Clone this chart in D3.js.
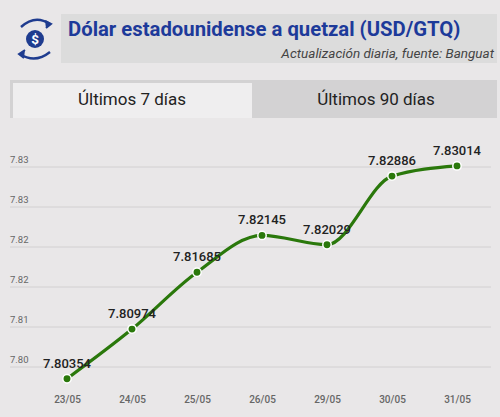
<!DOCTYPE html>
<html><head><meta charset="utf-8">
<script src="https://cdn.jsdelivr.net/npm/d3@7"></script>
<style>
html,body{margin:0;padding:0;background:#e9e7e8;}
svg{display:block;font-family:Roboto,"Noto Sans",sans-serif;}
</style></head>
<body>
<svg id="c" width="500" height="417"></svg>
<script>
const dates = ["23/05","24/05","25/05","26/05","29/05","30/05","31/05"];
const rates = [7.80354,7.80974,7.81685,7.82145,7.82029,7.82886,7.83014];
const yTicks = [7.805,7.810,7.815,7.820,7.825,7.830];
const yTickLabels = ["7.80","7.81","7.82","7.82","7.83","7.83"];
const titleText = "Dólar estadounidense a quetzal (USD/GTQ)";
const subtitleText = "Actualización diaria, fuente: Banguat";
const tabs = ["Últimos 7 días","Últimos 90 días"];

const svg = d3.select("#c");
svg.append("rect").attr("width",500).attr("height",417).attr("fill","#e9e7e8");

// Header
svg.append("rect").attr("x",61).attr("y",14).attr("width",436).attr("height",49).attr("fill","#dcdcdc");
svg.append("text").attr("x",68).attr("y",36).attr("font-size",20.3).attr("font-weight",700)
  .attr("fill","#1d3a9a").text(titleText);
svg.append("text").attr("x",494).attr("y",57.5).attr("text-anchor","end").attr("font-size",13.5)
  .attr("font-style","italic").attr("fill","#444").text(subtitleText);

// Icon
const ic = svg.append("g").attr("fill","none").attr("stroke","#1f3c8f");
svg.append("circle").attr("cx",35).attr("cy",39).attr("r",9).attr("fill","#1f3c8f");
svg.append("text").attr("x",35).attr("y",43.8).attr("text-anchor","middle").attr("font-size",13.5)
  .attr("font-weight",700).attr("fill","#fff").text("$");
ic.append("path").attr("d","M21,27 Q35,14 50,24").attr("stroke-width",2.4);
ic.append("path").attr("d","M45,21 L51,24 L46,28").attr("stroke-width",2).attr("fill","#1f3c8f");
ic.append("path").attr("d","M50,52 Q35,64 20,54").attr("stroke-width",2.4);
ic.append("path").attr("d","M25,50 L19,54 L24,58").attr("stroke-width",2).attr("fill","#1f3c8f");

// Tabs
svg.append("rect").attr("x",10).attr("y",80).attr("width",487).attr("height",38).attr("fill","#d3d2d3");
svg.append("rect").attr("x",13).attr("y",83).attr("width",239).attr("height",35).attr("fill","#efeeef");
svg.append("text").attr("x",132).attr("y",105).attr("text-anchor","middle").attr("font-size",17)
  .attr("fill","#222").text(tabs[0]);
svg.append("text").attr("x",376).attr("y",105).attr("text-anchor","middle").attr("font-size",17)
  .attr("fill","#222").text(tabs[1]);

// Scales
const x = d3.scalePoint().domain(dates).range([67,457]);
const y = d3.scaleLinear().domain([7.805,7.830]).range([367,167]);

// Grid + y labels
const grid = svg.append("g");
yTicks.forEach((t,i)=>{
  grid.append("line").attr("x1",10).attr("x2",491).attr("y1",y(t)).attr("y2",y(t))
    .attr("stroke","#d2d0d1").attr("stroke-width",1);
  grid.append("text").attr("x",10).attr("y",y(t)-4).attr("font-size",9.5).attr("fill","#666")
    .text(yTickLabels[i]);
});

// X axis labels
const xAxis = d3.axisBottom(x).tickSize(0).tickPadding(0);
const xg = svg.append("g").attr("transform","translate(0,396)").call(xAxis);
xg.select(".domain").remove();
xg.selectAll("text").attr("font-size",10).attr("font-weight",500).attr("fill","#666")
  .attr("font-family","Roboto,sans-serif").attr("dy","0.71em");

// Line
const line = d3.line().x((d,i)=>x(dates[i])).y(d=>y(d)).curve(d3.curveMonotoneX);
svg.append("path").datum(rates).attr("d",line).attr("fill","none")
  .attr("stroke","#2a780b").attr("stroke-width",3.2);

// Points
svg.append("g").selectAll("circle").data(rates).join("circle")
  .attr("cx",(d,i)=>x(dates[i])).attr("cy",d=>y(d)).attr("r",4.2)
  .attr("fill","#2a780b").attr("stroke","#fff").attr("stroke-width",1.5);

// Value labels
svg.append("g").selectAll("text").data(rates).join("text")
  .attr("x",(d,i)=>x(dates[i])).attr("y",d=>y(d)-11).attr("text-anchor","middle")
  .attr("font-size",13).attr("font-weight",500).attr("fill","#222")
  .text(d=>d.toFixed(5));
</script>
</body></html>
